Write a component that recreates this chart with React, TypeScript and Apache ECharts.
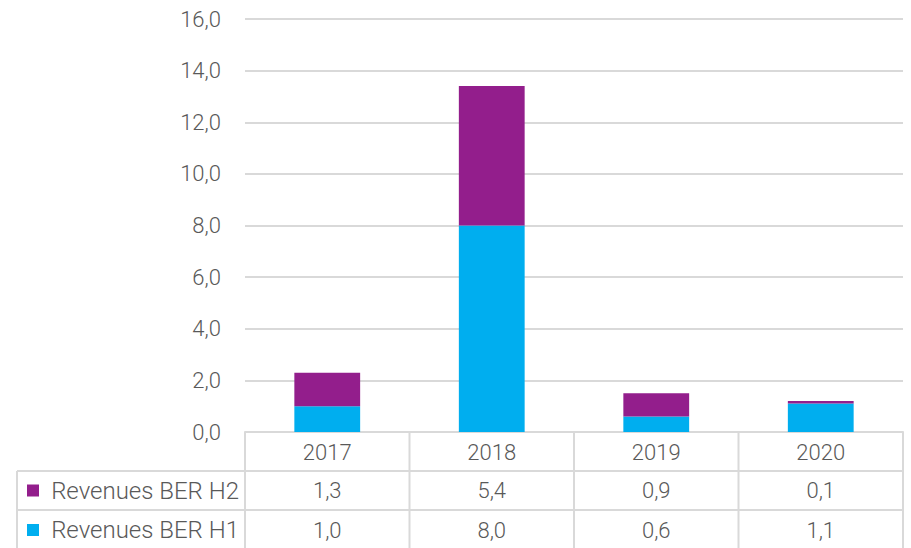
import React, { useEffect, useRef } from "react";
import * as echarts from "echarts";

const categories = ["2017", "2018", "2019", "2020"];
const seriesH1Name = "Revenues BER H1";
const seriesH2Name = "Revenues BER H2";
const h1Values = [1.0, 8.0, 0.6, 1.1];
const h2Values = [1.3, 5.4, 0.9, 0.1];
const yMin = 0;
const yMax = 16;
const yInterval = 2;

const W = 911;
const H = 548;
const GRID_LEFT = 245;
const GRID_RIGHT = 903;
const GRID_TOP = 19;
const GRID_BOTTOM = 432;
const ROW1 = 471;
const ROW2 = 510;
const TABLE_LEFT = 17;
const PURPLE = "#931E8C";
const CYAN = "#00AEEF";
const LINE = "#D9D9D9";
const TEXT = "#595959";
const FONT = "Roboto";
const FS = 22;
const FS_NAME = 24;
const FW = 300;

const fmt = (v: number) => v.toFixed(1).replace(".", ",");

export default function App() {
  const ref = useRef<HTMLDivElement>(null);
  useEffect(() => {
    if (!ref.current) return;
    const chart = echarts.init(ref.current, null, { renderer: "svg" });
    const colW = (GRID_RIGHT - GRID_LEFT) / categories.length;
    const graphics: any[] = [];
    [ROW1, ROW2].forEach((y) => {
      graphics.push({
        type: "line",
        shape: { x1: TABLE_LEFT, y1: y, x2: GRID_RIGHT, y2: y },
        style: { stroke: LINE, lineWidth: 2 },
        silent: true,
      });
    });
    for (let i = 0; i <= categories.length; i++) {
      const x = GRID_LEFT + i * colW;
      graphics.push({
        type: "line",
        shape: { x1: x, y1: GRID_BOTTOM, x2: x, y2: H },
        style: { stroke: LINE, lineWidth: 2 },
        silent: true,
      });
    }
    graphics.push({
      type: "line",
      shape: { x1: TABLE_LEFT, y1: ROW1, x2: TABLE_LEFT, y2: H },
      style: { stroke: LINE, lineWidth: 2 },
      silent: true,
    });
    const rows = [
      { name: seriesH2Name, color: PURPLE, vals: h2Values, y: (ROW1 + ROW2) / 2 },
      { name: seriesH1Name, color: CYAN, vals: h1Values, y: (ROW2 + H) / 2 + 1 },
    ];
    rows.forEach((r) => {
      graphics.push({
        type: "rect",
        shape: { x: 27, y: r.y - 6, width: 12, height: 12 },
        style: { fill: r.color },
        silent: true,
      });
      graphics.push({
        type: "text",
        x: 239,
        y: r.y,
        style: {
          text: r.name,
          fill: TEXT,
          font: `${FW} ${FS_NAME}px ${FONT}`,
          align: "right",
          verticalAlign: "middle",
        },
        silent: true,
      });
      r.vals.forEach((v, i) => {
        graphics.push({
          type: "text",
          x: GRID_LEFT + (i + 0.5) * colW,
          y: r.y,
          style: {
            text: fmt(v),
            fill: TEXT,
            font: `${FW} ${FS}px ${FONT}`,
            align: "center",
            verticalAlign: "middle",
          },
          silent: true,
        });
      });
    });

    chart.setOption({
      animation: false,
      grid: {
        left: GRID_LEFT,
        right: W - GRID_RIGHT,
        top: GRID_TOP,
        bottom: H - GRID_BOTTOM,
        containLabel: false,
      },
      xAxis: {
        type: "category",
        data: categories,
        axisLine: { lineStyle: { color: LINE, width: 2 } },
        axisTick: { show: false },
        axisLabel: {
          color: TEXT,
          fontFamily: FONT,
          fontSize: FS,
          fontWeight: FW,
          margin: 9,
        },
      },
      yAxis: {
        type: "value",
        min: yMin,
        max: yMax,
        interval: yInterval,
        axisLine: { show: false },
        axisTick: { show: false },
        splitLine: { lineStyle: { color: LINE, width: 2 } },
        axisLabel: {
          color: TEXT,
          fontFamily: FONT,
          fontSize: FS,
          fontWeight: FW,
          margin: 24,
          formatter: (v: number) => fmt(v),
        },
      },
      series: [
        {
          name: seriesH1Name,
          type: "bar",
          stack: "total",
          data: h1Values,
          barWidth: "40%",
          itemStyle: { color: CYAN },
        },
        {
          name: seriesH2Name,
          type: "bar",
          stack: "total",
          data: h2Values,
          barWidth: "40%",
          itemStyle: { color: PURPLE },
        },
      ],
      graphic: graphics,
    });
    return () => chart.dispose();
  }, []);
  return (
    <div
      ref={ref}
      style={{ width: W, height: H, position: "absolute", left: 0, top: 0 }}
    />
  );
}
